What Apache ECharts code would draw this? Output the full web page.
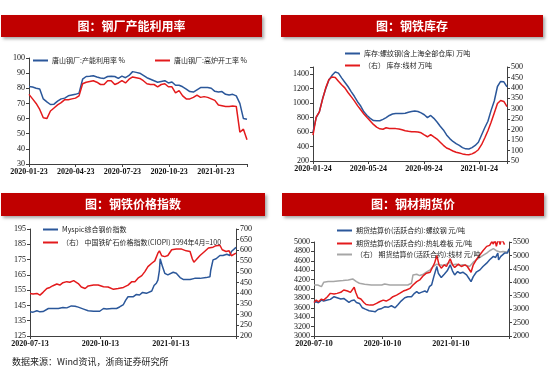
<!DOCTYPE html>
<html><head><meta charset="utf-8">
<script src="https://cdn.jsdelivr.net/npm/echarts@6/dist/echarts.min.js"></script>
<style>html,body{margin:0;padding:0;background:#fff}#c{width:550px;height:370px}</style>
</head><body><div id="c"></div>
<script>
// ---------- Panel 1: 钢厂产能利用率 (weekly from 2020-01-23) ----------
var p1Ticks = ['2020-01-23','2020-04-23','2020-07-23','2020-10-23','2021-01-23'];
var p1Capacity = [81.2,80.8,80,79.5,73,71,69.3,69.5,71.5,73,73.5,75,75.5,76,76.8,86,87.8,88,88.3,87.5,86.8,86.5,87.8,88,87.8,86.5,88,87,88.5,91,90.5,90,88.5,87,86,85,84,84.5,85,83.5,84.2,82,82,81,79.5,77.8,77.5,79,80.5,80.5,80.5,80,78,77.5,77.8,76,75.5,76,75,70,60,59.5];
var p1Furnace = [76,73,70,66,60.5,60,65,67,69,70.5,72.5,72.5,73,73.5,75,83,84,84.5,85,84,82.5,82.5,85,85,82.5,83.5,85,83.5,86,87.5,87,86.5,85,83,82.5,82.5,81,82.5,83,81,81,77,78.5,75,73,73,74,75.5,74,74.5,74,73,72,69,68.5,68,68,68.3,68,51,53,46];

// ---------- Panel 2: 钢铁库存 (weekly from 2020-01-24) ----------
var p2Ticks = ['2020-01-24','2020-05-24','2020-09-24','2021-01-24'];
var p2Rebar = [600,800,880,1060,1200,1320,1385,1430,1415,1350,1290,1230,1160,1095,1020,960,880,830,790,760,756,756,775,800,830,850,857,857,857,860,875,885,893,885,865,840,800,830,790,740,680,630,560,510,470,440,415,385,368,366,385,415,460,560,660,750,900,1030,1230,1300,1295,1225];
var p2Wire = [174,260,285,345,400,440,452,450,432,415,400,378,358,338,315,295,275,258,242,225,212,204,202,209,206,206,205,203,200,195,192,190,190,189,185,175,166,176,165,155,140,125,112,106,98,92,88,84,81,80,84,92,104,128,160,195,235,280,325,340,335,310];

// ---------- Panel 3: 钢铁价格指数 (days from 2020-07-13) ----------
var p3Ticks = ['2020-07-13','2020-10-13','2021-01-13'];
var p3MyDays = [0,4,9,13,17,24,30,37,43,48,54,59,63,70,76,83,91,96,100,107,113,117,122,125,128,135,139,143,147,152,159,162,165,167,169,170,173,176,180,187,191,196,200,209,215,222,230,235,236,239,243,248,252,257,261,263,265,269];
var p3Myspic = [140.8,140.6,141.5,140.8,141,143,143,143,143.6,143.4,144.7,144.5,143.9,142.6,141.5,141.2,141.2,143,142.6,143,143,144,145.6,148.5,150.7,150.7,152.2,151.8,153.5,152.9,154.4,158,159.5,161.6,168,175.5,170.4,166,165,166.7,166,163.2,162,162,162.7,162.7,163.2,163.8,168,174.8,175.5,177.7,177.7,178.5,177.7,180.3,180.7,183];
var p3OreDays = [0,4,9,13,17,22,26,30,35,39,43,48,52,57,63,67,72,76,83,89,96,102,109,115,122,128,133,137,141,146,150,154,159,163,167,169,172,176,180,185,191,198,204,209,212,214,217,222,228,233,239,243,248,251,256,260,263,265,269];
var p3Ciopi = [399,396,399,391,404,422,427,435,443,438,449,454,451,459,445,429,422,434,438,438,430,429,418,422,427,438,454,454,470,482,501,524,540,551,587,598,575,571,576,603,606,606,598,595,560,545,556,576,595,611,615,622,624,603,595,598,575,579,587];

// ---------- Panel 4: 钢材期货价 (days from 2020-07-10) ----------
var p4Ticks = ['2020-07-10','2020-10-10','2021-01-10'];
var p4RebarDays = [0,3,6,10,13,18,22,27,31,36,40,43,47,50,54,57,61,65,69,74,78,82,86,91,95,100,104,109,113,117,122,126,131,135,138,141,144,149,152,155,158,161,165,167,171,175,179,183,186,189,193,196,200,205,208,211,214,218,223,227,232,236,241,244,247,248,251,253,256,260,262];
var p4Rebar = [3714,3729,3707,3764,3743,3764,3779,3836,3814,3786,3800,3764,3714,3750,3764,3714,3693,3600,3571,3536,3529,3514,3564,3586,3621,3614,3643,3600,3671,3743,3814,3836,3836,3907,3943,3907,3929,3957,3929,4050,4086,4264,4479,4336,4243,4314,4386,4514,4386,4300,4371,4336,4357,4300,4229,4157,4264,4357,4407,4479,4550,4621,4693,4671,4764,4621,4693,4729,4764,4764,4857];
var p4HrcDays = [0,3,6,10,13,18,22,27,31,36,40,45,49,54,56,59,63,67,70,75,79,84,88,93,97,102,106,111,115,120,124,129,133,138,142,147,151,156,159,162,165,168,171,175,178,183,186,189,194,198,203,206,211,214,218,223,227,232,236,239,241,243,245,248,250,252,254,256];
var p4Hrc = [3714,3764,3729,3786,3764,3836,3907,3893,3907,3929,3979,3957,3929,4036,3929,3814,3786,3714,3671,3657,3657,3693,3729,3764,3743,3786,3836,3871,3907,3957,3979,4014,4086,4157,4193,4286,4336,4357,4457,4550,4714,4514,4443,4514,4479,4643,4514,4457,4529,4479,4514,4479,4357,4514,4621,4729,4814,4907,4929,5010,4957,5060,4907,5080,4943,5070,5010,4943];
var p4WireDays = [0,5,10,13,19,26,32,39,46,52,57,61,68,77,84,91,95,102,109,117,126,131,133,138,142,147,151,156,160,165,169,174,178,183,187,191,196,200,205,209,214,218,223,227,232,236,241,245,250,254,259,262];
var p4Wire = [3900,3900,3838,4000,4025,4025,4050,4063,4088,4125,4025,3963,3925,3900,3900,3900,3938,3900,3900,3900,3900,3963,4275,4300,4250,4300,4375,4463,4588,4675,4650,4625,4675,4750,4650,4675,4625,4650,4625,4588,4750,4838,4925,5000,5088,5175,5250,5175,5125,5150,5125,5175];

var BLUE = '#2B579A', RED = '#E31A1C', GRAY = '#A6A6A6', BANNER = '#C00000';
var NUMFONT = 'Liberation Serif';
var CJK = 'Noto Sans CJK SC';

function weekly(vals){ return vals.map(function(v,i){ return [i*7, v]; }); }
function paired(days, vals){ return days.map(function(d,i){ return [d, vals[i]]; }); }

function xAxisCfg(grid, max, iv, ticks){
  return {
    type:'value', gridIndex:grid, min:0, max:max, interval:iv,
    splitLine:{show:false},
    axisLine:{lineStyle:{color:'#404040', width:1}},
    axisTick:{show:true, length:3, lineStyle:{color:'#404040'}},
    axisLabel:{
      margin:4, fontSize:8, fontFamily:NUMFONT, color:'#111', fontWeight:'bold',
      formatter:function(v){ var k=Math.round(v/iv); return (Math.abs(v-k*iv)<0.01 && ticks[k]) ? ticks[k] : ''; }
    }
  };
}
function yAxisCfg(grid, min, max, iv, pos){
  return {
    type:'value', gridIndex:grid, min:min, max:max, interval:iv, position:pos,
    splitLine:{show:false},
    axisLine:{show:true, lineStyle:{color:'#404040', width:1}},
    axisTick:{show:true, length:3, lineStyle:{color:'#404040'}},
    axisLabel:{margin:4, fontSize:8, fontFamily:NUMFONT, color:'#111',
      formatter:function(v){ var k=(v-min)/iv; return Math.abs(k-Math.round(k))<1e-6 ? String(v) : ''; }}
  };
}
function lineS(name, data, color, xi, yi){
  return {name:name, type:'line', data:data, xAxisIndex:xi, yAxisIndex:yi, showSymbol:false,
    lineStyle:{color:color, width:1.5}, itemStyle:{color:color}, animation:false, clip:true};
}
function legendCfg(name, left, top){
  return {data:[name], left:left, top:top, icon:'rect', itemWidth:15, itemHeight:2, itemGap:4,
    textStyle:{fontSize:7, fontFamily:CJK, color:'#222', padding:[0,0,0,-1]}, padding:0, selectedMode:false};
}
function banner(x, y, w, h, text){
  return {type:'group', children:[
    {type:'rect', shape:{x:x, y:y, width:w, height:h},
      style:{fill:BANNER, shadowBlur:3, shadowColor:'rgba(0,0,0,0.35)', shadowOffsetX:2, shadowOffsetY:2}},
    {type:'text', x:x+w/2, y:y+h/2, style:{text:text, fill:'#fff', font:'bold 12px "Noto Sans CJK SC"', textAlign:'center', textVerticalAlign:'middle'}}
  ]};
}

var n1 = '唐山钢厂:产能利用率 %', n2 = '唐山钢厂:高炉开工率 %';
var n3 = '库存:螺纹钢(含上海全部仓库) 万吨', n4 = '（右） 库存:线材 万吨';
var n5 = 'Myspic综合钢价指数', n6 = '（右） 中国铁矿石价格指数(CIOPI) 1994年4月=100';
var n7 = '期货结算价(活跃合约):螺纹钢 元/吨', n8 = '期货结算价(活跃合约):热轧卷板 元/吨', n9 = '（右） 期货结算价(活跃合约):线材 元/吨';

var chart = echarts.init(document.getElementById('c'), null, {renderer:'canvas'});
chart.setOption({
  animation:false,
  backgroundColor:'#fff',
  grid:[
    {left:29, top:58, width:218, height:106},
    {left:313, top:67, width:194, height:94},
    {left:30, top:229, width:206, height:107},
    {left:314, top:242, width:195, height:94}
  ],
  xAxis:[
    xAxisCfg(0, 427, 91.5, p1Ticks),
    xAxisCfg(1, 427, 122, p2Ticks),
    xAxisCfg(2, 269, 92, p3Ticks),
    xAxisCfg(3, 262, 92, p4Ticks)
  ],
  yAxis:[
    yAxisCfg(0, 30, 100, 10, 'left'),
    yAxisCfg(1, 200, 1500, 200, 'left'),
    yAxisCfg(1, 50, 500, 50, 'right'),
    yAxisCfg(2, 125, 195, 10, 'left'),
    yAxisCfg(2, 200, 700, 50, 'right'),
    yAxisCfg(3, 3000, 5000, 200, 'left'),
    yAxisCfg(3, 2000, 5500, 500, 'right')
  ],
  legend:[
    legendCfg(n1, 33, 57),
    legendCfg(n2, 155, 57),
    legendCfg(n3, 345, 50),
    legendCfg(n4, 345, 62),
    legendCfg(n5, 43, 226),
    legendCfg(n6, 43, 239),
    legendCfg(n7, 337, 227),
    legendCfg(n8, 337, 240),
    legendCfg(n9, 337, 251)
  ],
  series:[
    lineS(n1, weekly(p1Capacity), BLUE, 0, 0),
    lineS(n2, weekly(p1Furnace), RED, 0, 0),
    lineS(n3, weekly(p2Rebar), BLUE, 1, 1),
    lineS(n4, weekly(p2Wire), RED, 1, 2),
    lineS(n5, paired(p3MyDays, p3Myspic), BLUE, 2, 3),
    lineS(n6, paired(p3OreDays, p3Ciopi), RED, 2, 4),
    lineS(n9, paired(p4WireDays, p4Wire), GRAY, 3, 6),
    lineS(n7, paired(p4RebarDays, p4Rebar), BLUE, 3, 5),
    lineS(n8, paired(p4HrcDays, p4Hrc), RED, 3, 5)
  ],
  graphic:[
    banner(1, 15, 261, 22, '图：钢厂产能利用率'),
    banner(281, 15, 262, 22, '图：钢铁库存'),
    banner(1, 193, 264, 23, '图：钢铁价格指数'),
    banner(282, 193, 262, 23, '图：钢材期货价'),
    {type:'text', left:12, top:357, style:{text:'数据来源：Wind资讯，浙商证券研究所', fill:'#222', font:'9px "Noto Sans CJK SC"'}}
  ]
});
</script>
</body></html>
